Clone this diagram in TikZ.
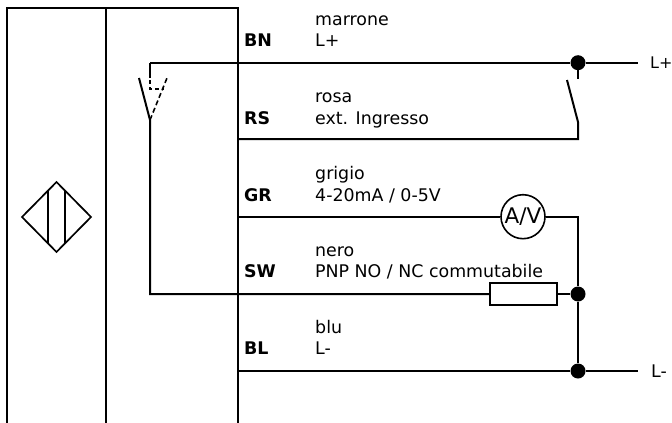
\documentclass[tikz,border=0pt]{standalone}
\usepackage{fontspec}
\setmainfont{DejaVu Sans}
\usetikzlibrary{positioning,calc}
\tikzset{
    wire/.style={line width=2pt,black},
    frameline/.style={line width=2pt,black},
    sensorline/.style={line width=1.7pt,black,line join=miter},
    dot/.style={circle,fill=black,inner sep=0pt,minimum size=15pt},
    code/.style={anchor=base west,font=\fontsize{17.4}{20}\selectfont\bfseries,inner sep=0pt},
    caption/.style={anchor=base west,font=\fontsize{17.4}{20}\selectfont,inner sep=0pt},
}
\begin{document}
\begin{tikzpicture}[x=1pt,y=-1pt]
    \useasboundingbox (0,0) rectangle (672,423);
    
    % Housing
    \draw[frameline] (7,423) -- (7,8) -- (238,8) -- (238,423);
    \draw[frameline] (106,8) -- (106,423);
    
    % Sensor symbol
    \draw[sensorline] (22,217) -- (56.5,182) -- (91,217) -- (56.5,252) -- cycle;
    \draw[sensorline] (48,191) -- (48,243);
    \draw[sensorline] (65,191) -- (65,243);
    
    % Junctions and end points
    \node[dot] (jplus) at (578,62.7) {};
    \node[dot] (jsw) at (578,294) {};
    \node[dot] (jminus) at (578,371) {};
    \coordinate (bn) at (150,62.7);
    \coordinate (rs) at (238,139);
    \coordinate (gr) at (238,216.7);
    \coordinate (bl) at (238,371);
    \coordinate (lplus) at (638,62.7);
    \coordinate (lminus) at (638,371);
    
    % Meter and resistor
    \node[circle,draw,line width=1.6pt,minimum size=44pt,inner sep=0pt,font=\fontsize{21.5}{24}\selectfont] (meter) at (523,216.7) {A/V};
    \node[rectangle,draw,line width=2pt,minimum width=67pt,minimum height=22pt,inner sep=0pt] (res) at (523.5,294) {};
    
    % Wires
    \draw[wire] (bn) -- (jplus) -- (lplus);
    \draw[wire] (bl) -- (jminus) -- (lminus);
    \draw[wire] (gr) -- (meter);
    \draw[wire] (meter) -- (578,216.7) -- (jsw);
    \draw[wire] (jsw) -- (jminus);
    \draw[wire] (res) -- (jsw);
    
    % Relay contact on L+
    \draw[wire] (jplus) -- (578,79);
    \draw[wire] (rs) -- (578,139) -- (578,122) -- (567,80);
    
    % Switch output
    \draw[wire] (res) -- (150,294) -- (150,120) -- (139,78);
    \draw[wire] (bn) -- (150,78);
    \draw[wire,dash pattern=on 4pt off 3pt,line width=1.6pt] (150,80) -- (150,89) -- (164,89);
    \draw[wire,dash pattern=on 5pt off 3pt,line width=1.6pt] (150,120) -- (167,78);
    
    % Labels
    \node[code] (lbn) at (244,46.5) {BN};
    \node[code] (lrs) at (244,124) {RS};
    \node[code] (lgr) at (244,201) {GR};
    \node[code] (lsw) at (244,277.5) {SW};
    \node[code] (lbl) at (244,354) {BL};
    
    \node[caption] (cbn1) at (315,25) {marrone};
    \node[caption] (cbn2) at (315,46.5) {L+};
    \node[caption] (crs1) at (315,102) {rosa};
    \node[caption] (crs2) at (315,124) {ext. Ingresso};
    \node[caption] (cgr1) at (315,179) {grigio};
    \node[caption] (cgr2) at (315,201) {4-20mA / 0-5V};
    \node[caption] (csw1) at (315,256) {nero};
    \node[caption] (csw2) at (315,277.5) {PNP NO / NC commutabile};
    \node[caption] (cbl1) at (315,333) {blu};
    \node[caption] (cbl2) at (315,354) {L-};
    
    \node[caption,font=\fontsize{16}{18}\selectfont] (tplus) at (650,68.5) {L+};
    \node[caption] (tminus) at (651,377) {L-};
\end{tikzpicture}
\end{document}
